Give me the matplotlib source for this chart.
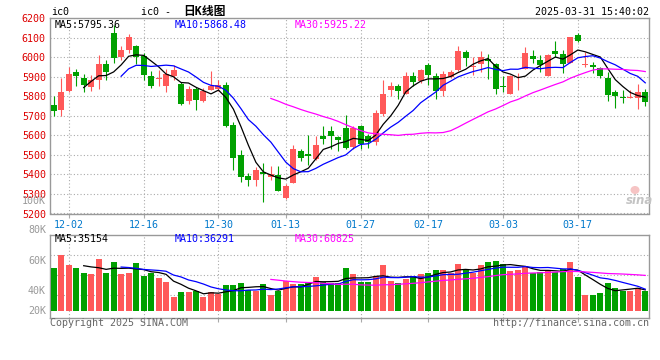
import numpy as np
import pandas as pd
import matplotlib
matplotlib.use("Agg")
import matplotlib.pyplot as plt
from matplotlib.patches import Ellipse

# trading days shown (11-28 .. 03-28)
dates = ['11-28', '11-29',
         '12-02', '12-03', '12-04', '12-05', '12-06', '12-09', '12-10', '12-11', '12-12', '12-13',
         '12-16', '12-17', '12-18', '12-19', '12-20', '12-23', '12-24', '12-25', '12-26', '12-27',
         '12-30', '12-31',
         '01-02', '01-03', '01-06', '01-07', '01-08', '01-09', '01-10', '01-13', '01-14', '01-15',
         '01-16', '01-17', '01-20', '01-21', '01-22', '01-23', '01-24', '01-27',
         '02-05', '02-06', '02-07', '02-10', '02-11', '02-12', '02-13', '02-14', '02-17', '02-18',
         '02-19', '02-20', '02-21', '02-24', '02-25', '02-26', '02-27', '02-28',
         '03-03', '03-04', '03-05', '03-06', '03-07', '03-10', '03-11', '03-12', '03-13', '03-14',
         '03-17', '03-18', '03-19', '03-20', '03-21', '03-24', '03-25', '03-26', '03-27', '03-28']

opens = [5756, 5727, 5828, 5922, 5893, 5845, 5881, 5966, 6123, 6000,
         6038, 6055, 6007, 5905, 5888, 5850, 5901, 5862, 5773, 5837,
         5773, 5833, 5837, 5859, 5654, 5501, 5390, 5370, 5411, 5387,
         5395, 5279, 5354, 5518, 5506, 5479, 5598, 5620, 5589, 5635,
         5540, 5649, 5595, 5564, 5710, 5830, 5854, 5811, 5901, 5876,
         5961, 5901, 5825, 5898, 5932, 6027, 5949, 5963, 5990, 5966,
         5854, 5811, 5906, 5939, 6007, 5986, 5905, 6032, 6017, 5969,
         6114, 5961, 5961, 5944, 5893, 5819, 5796, 5792, 5791, 5823]
highs = [5802, 5893, 5949, 5939, 5915, 5908, 6012, 5986, 6165, 6058,
         6119, 6063, 6020, 5927, 5935, 5939, 5961, 5872, 5854, 5847,
         5842, 5930, 5884, 5871, 5666, 5523, 5407, 5438, 5458, 5441,
         5445, 5353, 5552, 5530, 5603, 5595, 5649, 5649, 5598, 5705,
         5649, 5654, 5608, 5731, 5881, 5871, 5864, 5922, 5922, 5939,
         5969, 5918, 5927, 5935, 6055, 6034, 6003, 6029, 6017, 5969,
         5901, 5910, 5918, 6051, 6034, 6012, 6017, 6080, 6038, 6102,
         6123, 6024, 5973, 5949, 5922, 5833, 5833, 5833, 5864, 5837]
lows = [5700, 5700, 5819, 5850, 5819, 5825, 5837, 5881, 5969, 5983,
        6020, 5966, 5884, 5840, 5850, 5819, 5884, 5756, 5762, 5731,
        5768, 5830, 5825, 5642, 5424, 5360, 5339, 5342, 5257, 5373,
        5313, 5274, 5354, 5470, 5450, 5475, 5555, 5530, 5518, 5530,
        5530, 5530, 5535, 5552, 5700, 5802, 5785, 5811, 5850, 5867,
        5859, 5785, 5802, 5893, 5927, 5956, 5910, 5922, 5888, 5813,
        5819, 5811, 5833, 5939, 5969, 5922, 5905, 6000, 5918, 5969,
        6075, 5949, 5918, 5893, 5773, 5739, 5765, 5791, 5734, 5751]
closes = [5722, 5823, 5915, 5901, 5859, 5881, 5966, 5922, 5993, 6038,
          6102, 6003, 5908, 5850, 5891, 5915, 5932, 5762, 5837, 5782,
          5828, 5850, 5859, 5646, 5484, 5385, 5370, 5424, 5402, 5402,
          5313, 5339, 5530, 5484, 5492, 5552, 5581, 5595, 5574, 5537,
          5635, 5555, 5564, 5714, 5813, 5850, 5825, 5905, 5871, 5932,
          5910, 5825, 5915, 5922, 6032, 5993, 5956, 6000, 5981, 5838,
          5845, 5901, 5910, 6020, 5992, 5961, 6012, 6017, 5966, 6102,
          6084, 5966, 5949, 5901, 5808, 5799, 5792, 5796, 5821, 5768]
# volume, thousand lots
volumes = [72.3, 94.1, 77.8, 72.3, 63.9, 62.2, 87.4, 63.9, 82.4, 62.2,
           63.9, 80.7, 58.8, 64.4, 55.5, 48.7, 23.5, 31.9, 31.9, 33.6,
           23.5, 31.9, 28.6, 43.7, 43.7, 47.1, 35.3, 33.6, 45.4, 26.9,
           33.6, 51.0, 46.0, 45.0, 48.7, 57.1, 48.7, 47.1, 47.6, 72.3,
           62.2, 48.7, 48.7, 58.8, 77.3, 50.4, 47.1, 53.8, 58.8, 62.2,
           63.9, 68.9, 68.9, 63.9, 79.0, 68.9, 63.9, 77.3, 82.4, 84.0,
           79.0, 67.2, 68.9, 75.6, 63.9, 65.5, 67.2, 65.5, 70.6, 82.4,
           57.1, 26.9, 26.9, 30.8, 47.6, 38.2, 33.6, 33.6, 38.2, 33.6]

tick_dates = ['12-02', '12-16', '12-30', '01-13', '01-27', '02-17', '03-03', '03-17']
price_ticks = list(range(5200, 6201, 100))
vol_axis_labels = ['100K', '80K', '60K', '40K', '20K']

RED = '#FF5959'
GREEN = '#00A000'
GRID = dict(color='#aaaaaa', linestyle=(0, (1, 2)), linewidth=0.8)
W, H = 660, 360
FS = 7.2

plt.rcParams['font.family'] = ['DejaVu Sans Mono', 'Noto Sans CJK SC']


def px_rect(left, top, right, bottom):
    return [left / W, 1 - bottom / H, (right - left) / W, (bottom - top) / H]


def ftext(px, py, s, **kw):
    kw.setdefault('fontsize', FS)
    kw.setdefault('va', 'center')
    fig.text(px / W, 1 - py / H, s, **kw)


o = np.array(opens, float)
c = np.array(closes, float)
x = np.arange(len(dates))
colors = np.where(c >= o, RED, GREEN)
tick_pos = [dates.index(d) for d in tick_dates]

fig = plt.figure(figsize=(W / 100, H / 100), dpi=100)
ax = fig.add_axes(px_rect(50, 18, 649, 213.5))
axv = fig.add_axes(px_rect(50, 234.7, 649, 318))

# --- price panel
ax.vlines(x, lows, highs, colors=colors, linewidth=0.8, zorder=3)
ax.bar(x, np.maximum(np.abs(c - o), 4), bottom=np.minimum(o, c), width=0.8,
       color=colors, linewidth=0, zorder=3)
cs = pd.Series(c)
ax.plot(x, cs.rolling(5).mean(), color='black', lw=0.9, zorder=4)
ax.plot(x, cs.rolling(10).mean(), color='#0000FF', lw=0.9, zorder=4)
ax.plot(x, cs.rolling(30).mean(), color='#FF00FF', lw=0.9, zorder=4)

ax.set_xlim(-0.5, len(dates) - 0.5)
ax.set_ylim(5200, 6200)
ax.set_yticks(price_ticks)
ax.set_xticks(tick_pos)
ax.set_xticklabels(tick_dates)
ax.grid(True, **GRID)
ax.tick_params(axis='y', length=0, pad=3, labelcolor='#DD0000', labelsize=FS)
ax.tick_params(axis='x', length=3, color='#aaaaaa', pad=1.5, labelcolor='#0078CC', labelsize=FS)

# --- volume panel
vs = pd.Series(volumes)
axv.bar(x, volumes, width=0.8, color=colors, linewidth=0, zorder=3)
axv.plot(x, vs.rolling(5).mean(), color='black', lw=0.9, zorder=4)
axv.plot(x, vs.rolling(10).mean(), color='#0000FF', lw=0.9, zorder=4)
axv.plot(x, vs.rolling(30).mean(), color='#FF00FF', lw=0.9, zorder=4)
axv.set_xlim(-0.5, len(dates) - 0.5)
vlo, vhi = -11.8, 128.2
axv.set_ylim(vlo, vhi)
axv.set_yticks([vlo + f * (vhi - vlo) for f in (0.28, 0.513, 0.753)])
axv.set_xticks(tick_pos)
axv.set_xticklabels([])
axv.set_yticklabels([])
axv.grid(True, **GRID)
axv.tick_params(axis='y', length=0)
axv.tick_params(axis='x', length=3, color='#aaaaaa')

for a in (ax, axv):
    for s in a.spines.values():
        s.set_color('#999999')
        s.set_linewidth(1.0)

# --- texts
ftext(51, 12, 'ic0')
ftext(141, 12, 'ic0 -')
ftext(183, 12, '日K线图', fontsize=8.5, fontweight='bold')
ftext(649, 12, '2025-03-31 15:40:02', ha='right')

ftext(55, 24.5, 'MA5:5795.36', color='black')
ftext(175, 24.5, 'MA10:5868.48', color='#0000FF')
ftext(295, 24.5, 'MA30:5925.22', color='#FF00FF')

ftext(55, 238.5, 'MA5:35154', color='black')
ftext(175, 238.5, 'MA10:36291', color='#0000FF')
ftext(295, 238.5, 'MA30:60825', color='#FF00FF')

for lab, py in zip(vol_axis_labels, [200.7, 230.3, 261, 291, 310.7]):
    ftext(46, py, lab, ha='right', color='#999999')

ftext(50, 323.5, 'Copyright 2025 SINA.COM', color='#666666')
ftext(649, 323.5, 'http://finance.sina.com.cn', ha='right', color='#666666')

# sina watermark
fig.patches.append(Ellipse((635 / W, 1 - 190 / H), 9 / W, 8 / H, transform=fig.transFigure,
                           facecolor='#f6c4c4', edgecolor='none'))
ftext(640, 200, 'sina', ha='center', fontsize=8.5, fontstyle='italic', fontweight='bold',
      color='#c4c4c4', family='DejaVu Sans')

fig.savefig('out.png', dpi=100, facecolor='white')
